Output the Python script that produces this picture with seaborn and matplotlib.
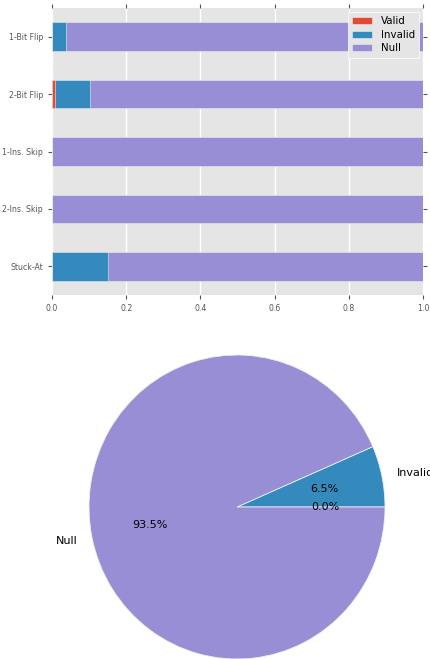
import matplotlib
matplotlib.use('Agg')
import matplotlib.pyplot as plt
import seaborn as sns
import pandas as pd

# ---- data ----
categories = ['1-Bit Flip', '2-Bit Flip', '1-Ins. Skip', '2-Ins. Skip', 'Stuck-At']
valid = [0.0, 0.007, 0.0, 0.0, 0.0]
invalid = [0.038, 0.096, 0.0, 0.0, 0.152]
null = [0.962, 0.897, 1.0, 1.0, 0.848]
series_names = ['Valid', 'Invalid', 'Null']
series_colors = ['#E24A33', '#348ABD', '#988ED5']
x_ticks = [0.0, 0.2, 0.4, 0.6, 0.8, 1.0]
pie_values = [0.0, 6.5, 93.5]
pie_labels = ['', 'Invalid', 'Null']

plt.style.use('ggplot')
fig = plt.figure(figsize=(4.3, 6.59), dpi=100)
W, H = 430, 659

# ---- stacked horizontal bars ----
ax = fig.add_axes([52 / W, 1 - 295 / H, 371 / W, 287 / H])
df = pd.DataFrame({'cat': categories, 'Valid': valid, 'Invalid': invalid, 'Null': null})
df['c_Valid'] = df['Valid']
df['c_Invalid'] = df['Valid'] + df['Invalid']
df['c_Null'] = df['c_Invalid'] + df['Null']

for name, color in reversed(list(zip(series_names, series_colors))):
    sns.barplot(data=df, x='c_' + name, y='cat', orient='h', color=color,
                saturation=1, width=0.5, edgecolor='#EEEEEE', linewidth=0.4,
                errorbar=None, label=name, ax=ax)

ax.set_xlim(0, 1)
ax.set_xticks(x_ticks)
ax.set_xlabel('')
ax.set_ylabel('')
ax.set_axisbelow(True)
ax.grid(axis='x', color='white', linewidth=1)
ax.tick_params(axis='both', labelsize=5.6, colors='#555555', labelcolor='#555555',
               direction='out', length=3, top=True, right=True)
for s in ax.spines.values():
    s.set_visible(False)

handles, labels = ax.get_legend_handles_labels()
order = [labels.index(n) for n in series_names]
leg = ax.legend([handles[i] for i in order], [labels[i] for i in order],
                loc='upper right', fontsize=7.4, fancybox=False, framealpha=1,
                facecolor='#E5E5E5', edgecolor='white', borderaxespad=0.4,
                handlelength=2.0, labelspacing=0.35)

# ---- pie (slightly elliptical, as in the reference) ----
RX, RY = 148, 152
cx, cy = 237, 507
ax2 = fig.add_axes([(cx - 1.25 * RX) / W, (H - cy - 1.25 * RY) / H,
                    2.5 * RX / W, 2.5 * RY / H])
ax2.pie(pie_values, labels=pie_labels, colors=series_colors, autopct='%1.1f%%',
        startangle=0, counterclock=True,
        wedgeprops=dict(edgecolor='#EEEEEE', linewidth=0.6),
        textprops=dict(fontsize=8, color='black'))
ax2.set_xlim(-1.25, 1.25)
ax2.set_ylim(-1.25, 1.25)
ax2.set_aspect('auto')
ax2.axis('off')

fig.savefig('out.png', dpi=100)
